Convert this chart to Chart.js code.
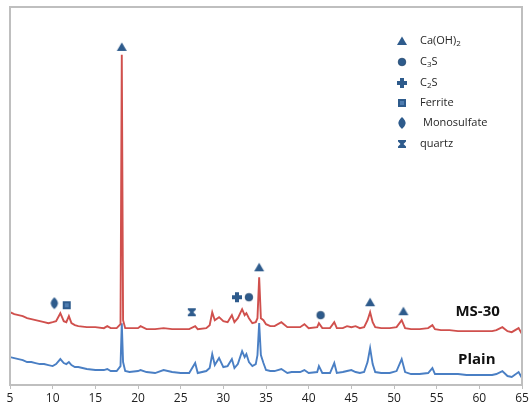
<!DOCTYPE html>
<html>
<head>
<meta charset="utf-8">
<script src="https://cdn.jsdelivr.net/npm/chart.js@4/dist/chart.umd.min.js"></script>
<style>
html,body{margin:0;padding:0;background:#fff;}
#wrap{width:529px;height:409px;position:relative;}
</style>
</head>
<body>
<div id="wrap"><canvas id="c" width="529" height="409"></canvas></div>
<script>
// ---- data (2θ in degrees, intensity in arbitrary units) ----
const twoTheta = [5.0,5.5,6.0,6.5,7.0,7.5,8.0,8.5,9.0,9.5,10.0,10.4,10.9,11.3,11.6,11.9,12.2,12.6,13.0,14.0,15.0,16.0,16.4,16.8,17.5,17.95,18.1,18.25,18.5,19.0,20.0,20.3,21.0,22.0,23.0,24.0,25.0,26.0,26.7,27.0,28.0,28.4,28.7,29.0,29.5,30.0,30.5,31.0,31.3,31.7,32.2,32.5,32.7,33.0,33.4,33.8,34.0,34.2,34.4,34.7,35.0,35.5,36.0,36.8,37.5,38.0,39.0,39.5,40.0,41.0,41.2,41.6,42.5,43.0,43.3,44.0,44.5,45.0,45.5,46.0,46.5,46.9,47.2,47.5,47.8,48.5,49.5,50.3,50.9,51.3,52.0,53.0,54.0,54.5,54.8,55.5,56.5,57.5,58.5,59.5,60.5,61.5,62.0,62.7,63.3,63.8,64.6,65.0];
const ms30 = [73,71,70,69,67,66,65,64,63,62,63,64,72,64,63,69,62,60,59,58,58,57,59,57,57,61,331,65,57,57,57,59,56,56,57,56,56,56,59,56,57,60,73,65,68,64,63,70,63,67,76,70,72,67,62,63,67,108,67,65,61,59,59,63,58,58,58,61,57,58,62,57,57,63,57,57,59,58,59,57,58,65,73,63,58,57,57,58,65,57,56,56,57,60,56,55,55,54,54,54,54,54,55,58,54,53,57,51];
const plain = [28,27,26,25,23,23,22,21,21,20,19,21,26,22,21,23,20,18,18,16,15,15,16,14,14,19,62,23,14,13,14,15,13,12,15,13,12,12,22,12,14,17,31,20,27,18,19,26,17,21,34,28,31,23,19,21,30,62,30,22,15,14,14,16,12,13,13,15,12,13,19,12,12,22,12,13,14,15,13,12,13,23,37,21,13,12,12,14,26,13,11,11,12,17,11,11,11,11,10,10,10,10,11,14,9,8,13,7];
const seriesNames = ["MS-30","Plain"];
const seriesLabelX = [59.8, 59.7];
const seriesLabelY = [73, 25];

// phase markers
const phaseNames = ["Ca(OH)2","C3S","C2S","Ferrite","Monosulfate","quartz"];
const caohX = [18.1, 34.2, 47.2, 51.1];
const caohY = [339, 118, 83, 74];
const c3sX = [33.0, 41.4];
const c3sY = [88, 70];
const c2sX = [31.6];
const c2sY = [88];
const ferriteX = [11.65];
const ferriteY = [80];
const monoX = [10.2];
const monoY = [82];
const quartzX = [26.3];
const quartzY = [73];
const xTicks = [5,10,15,20,25,30,35,40,45,50,55,60,65];

const MK = '#2e5b8c';
function shape(kind){
  const cv = document.createElement('canvas');
  cv.width = 14; cv.height = 14;
  const g = cv.getContext('2d');
  g.translate(7,7);
  g.fillStyle = MK; g.strokeStyle = '#24486f'; g.lineWidth = 0.8;
  g.beginPath();
  if(kind==='tri'){ g.moveTo(0,-4.5); g.lineTo(5,4); g.lineTo(-5,4); g.closePath(); g.fill(); }
  else if(kind==='circ'){ g.arc(0,0,3.8,0,Math.PI*2); g.fill(); g.stroke(); }
  else if(kind==='plus'){ g.rect(-2,-5,4,10); g.rect(-5,-2,10,4); g.fill(); }
  else if(kind==='sq'){ g.rect(-4,-4,8,8); g.fill(); g.fillStyle='#4f7db0'; g.fillRect(-2,-2,4,4); }
  else if(kind==='dia'){ g.moveTo(0,-6); g.bezierCurveTo(2.5,-4,4,-1,3.6,0.5); g.bezierCurveTo(3,3,1.5,4.5,0,6); g.bezierCurveTo(-1.5,4.5,-3,3,-3.6,0.5); g.bezierCurveTo(-4,-1,-2.5,-4,0,-6); g.closePath(); g.fill(); }
  else if(kind==='qz'){ g.moveTo(-4,-4); g.lineTo(4,-4); g.lineTo(4,-2.5); g.lineTo(1.5,0); g.lineTo(4,2.5); g.lineTo(4,4); g.lineTo(-4,4); g.lineTo(-4,2.5); g.lineTo(-1.5,0); g.lineTo(-4,-2.5); g.closePath(); g.fill(); }
  return cv;
}
const shapes = {tri:shape('tri'),circ:shape('circ'),plus:shape('plus'),sq:shape('sq'),dia:shape('dia'),qz:shape('qz')};
const phaseShapes = ['tri','circ','plus','sq','dia','qz'];

function pts(xs, ys){ return xs.map((x,i)=>({x:x,y:ys[i]})); }
function markerSet(label, xs, ys, s){
  return {label, data:pts(xs,ys), showLine:false, pointStyle:shapes[s], pointRadius:6, pointHoverRadius:6, order:0, type:'scatter'};
}

const framePlugin = {
  id:'frame',
  afterDatasetsDraw(chart){
    const {ctx, chartArea:a} = chart;
    ctx.save();
    ctx.strokeStyle = '#bfbfbf'; ctx.lineWidth = 2;
    ctx.beginPath();
    ctx.moveTo(a.left, a.bottom); ctx.lineTo(a.left, a.top); ctx.lineTo(a.right, a.top); ctx.lineTo(a.right, a.bottom);
    ctx.stroke();
    // series labels
    const xs = chart.scales.x, ys = chart.scales.y;
    ctx.fillStyle = '#111'; ctx.font = 'bold 15px "Open Sans"'; ctx.textAlign='center'; ctx.textBaseline='middle';
    seriesNames.forEach((n,i)=>ctx.fillText(n, xs.getPixelForValue(seriesLabelX[i]), ys.getPixelForValue(seriesLabelY[i])));
    // legend
    const rows = [41,62,83,103,123,144];
    ctx.textAlign='left';
    phaseNames.forEach((n,i)=>{
      const y = rows[i];
      ctx.drawImage(shapes[phaseShapes[i]], 402-7, y-7);
      ctx.fillStyle = '#262626';
      const m = n.match(/^(.*?)(\d)(.*)$/);
      let x = i===4 ? 423 : 420;
      if(m){
        ctx.font = '11px "Open Sans"'; ctx.fillText(m[1], x, y); x += ctx.measureText(m[1]).width;
        ctx.font = '8px "Open Sans"'; ctx.fillText(m[2], x, y+3); x += ctx.measureText(m[2]).width;
        ctx.font = '11px "Open Sans"'; ctx.fillText(m[3], x, y);
      } else {
        ctx.font = '11px "Open Sans"'; ctx.fillText(n, x, y);
      }
    });
    ctx.restore();
  }
};

new Chart(document.getElementById('c'), {
  type:'line',
  data:{
    datasets:[
      markerSet(phaseNames[0], caohX, caohY, 'tri'),
      markerSet(phaseNames[1], c3sX, c3sY, 'circ'),
      markerSet(phaseNames[2], c2sX, c2sY, 'plus'),
      markerSet(phaseNames[3], ferriteX, ferriteY, 'sq'),
      markerSet(phaseNames[4], monoX, monoY, 'dia'),
      markerSet(phaseNames[5], quartzX, quartzY, 'qz'),
      {label:seriesNames[0], data:pts(twoTheta, ms30), borderColor:'#d0504d', borderWidth:1.9, pointRadius:0, tension:0, order:1},
      {label:seriesNames[1], data:pts(twoTheta, plain), borderColor:'#4a7fc4', borderWidth:1.9, pointRadius:0, tension:0, order:2}
    ]
  },
  options:{
    responsive:false, animation:false, devicePixelRatio:1,
    layout:{padding:{top:6,left:10,right:6,bottom:0}},
    plugins:{legend:{display:false}, tooltip:{enabled:false}},
    scales:{
      x:{type:'linear', min:5, max:65,
        afterBuildTicks(s){ s.ticks = xTicks.map(v=>({value:v})); },
        afterFit(s){ s.paddingLeft=0; s.paddingRight=0; s.height=24; },
        border:{display:true, color:'#bfbfbf', width:2},
        grid:{drawOnChartArea:false, tickLength:4, color:'#bfbfbf', lineWidth:1},
        ticks:{padding:2, color:'#222', font:{family:'"Open Sans"', size:12}, maxRotation:0, autoSkip:false}
      },
      y:{display:false, min:0, max:379}
    }
  },
  plugins:[framePlugin]
});
</script>
</body>
</html>
